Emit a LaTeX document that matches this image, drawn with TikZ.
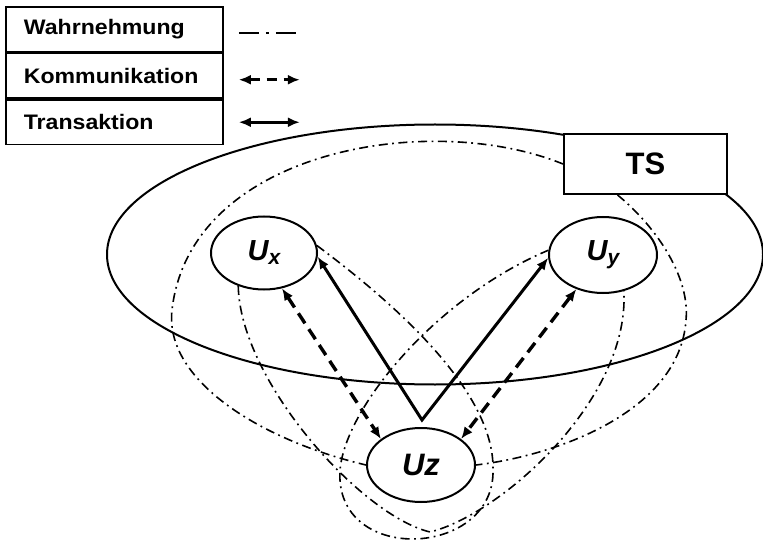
\documentclass[tikz,border=0pt]{standalone}
\usepackage{fontspec}
\setmainfont{Liberation Sans}
\newfontfamily\legendfont[FakeStretch=1.1]{Liberation Sans}
\usetikzlibrary{positioning,calc,arrows.meta,shapes.geometric}

\begin{document}
\begin{tikzpicture}[
      x=1pt,y=-1pt,
      >={Latex[length=12pt,width=10pt]},
      legbox/.style={draw,line width=1.8pt,minimum width=217pt,minimum height=44.7pt,
        text width=181pt,inner xsep=18pt,align=left,
        font=\legendfont\bfseries\fontsize{21}{25}\selectfont},
      user/.style={draw,ellipse,line width=2pt,fill=white,inner sep=0pt,
        minimum width=106pt,minimum height=73pt,
        font=\bfseries\itshape\fontsize{29}{34}\selectfont},
      percep/.style={line width=1.6pt,dash pattern=on 9pt off 4.5pt on 1.8pt off 4.5pt},
      comm/.style={<->,line width=3.4pt,dash pattern=on 12pt off 7pt},
      trans/.style={<->,line width=3pt},
      ]
      \useasboundingbox (0,0) rectangle (763,540);
      \node[legbox,anchor=north west] (legW) at (5,6) {Wahrnehmung};
      \node[legbox,below=0pt of legW] (legK) {Kommunikation};
      \node[legbox,below=0pt of legK] (legT) {Transaktion};
      \coordinate (legWa) at ([xshift=15pt,yshift=-4pt]legW.east);
      \coordinate (legWb) at ([xshift=73pt,yshift=-4pt]legW.east);
      \coordinate (legKa) at ([xshift=15pt,yshift=-4pt]legK.east);
      \coordinate (legKb) at ([xshift=76pt,yshift=-4pt]legK.east);
      \coordinate (legTa) at ([xshift=15pt]legT.east);
      \coordinate (legTb) at ([xshift=76pt]legT.east);
      \draw[line width=2.2pt,dash pattern=on 20pt off 7pt on 3pt off 7pt] (legWa) -- (legWb);
      \draw[<->,line width=2.8pt,dash pattern=on 10pt off 7pt] (legKa) -- (legKb);
      \draw[trans] (legTa) -- (legTb);

      \draw[line width=2pt] (435,254.5) ellipse [x radius=328pt,y radius=130pt];
      \node[draw,line width=2pt,fill=white,minimum width=163pt,minimum height=60pt,
        font=\bfseries\fontsize{31}{36}\selectfont] (TS) at (645.5,164) {TS};
      \node[user] (Ux) at (264,253) {U\raisebox{-4pt}{\fontsize{21}{24}\selectfont x}};
      \node[user,minimum width=108pt,minimum height=76pt] (Uy) at (603,255)
        {U\raisebox{-4pt}{\fontsize{21}{24}\selectfont y}};
      \node[user,minimum width=108pt,minimum height=74pt,
        font=\bfseries\itshape\fontsize{31}{36}\selectfont] (Uz) at (421,465) {Uz};
      \coordinate (tvertex) at (422,420);

      \draw[percep] (TS.west) .. controls (430,110) and (190,150) .. (172,310)
        .. controls (164,380) and (260,440) .. (Uz.west);
      \draw[percep] (TS.228) .. controls (660,230) and (690,280) .. (686,320)
        .. controls (680,410) and (560,455) .. (Uz.east);
      \draw[percep] (Ux.8) .. controls (390,300) and (495,390) .. (493,470)
        .. controls (495,555) and (345,565) .. (340,480)
        .. controls (335,420) and (430,300) .. (Uy.175);
      \draw[percep] (Ux.232) .. controls (240,380) and (360,515) .. (430,532)
        .. controls (500,515) and (630,400) .. (Uy.300);

      \draw[trans] (Ux.-4) -- (tvertex) -- (Uy.183);
      \path[comm]
      (Ux.297) edge (Uz.147)
      (Uy.232) edge (Uz.33);
    \end{tikzpicture}
\end{document}
